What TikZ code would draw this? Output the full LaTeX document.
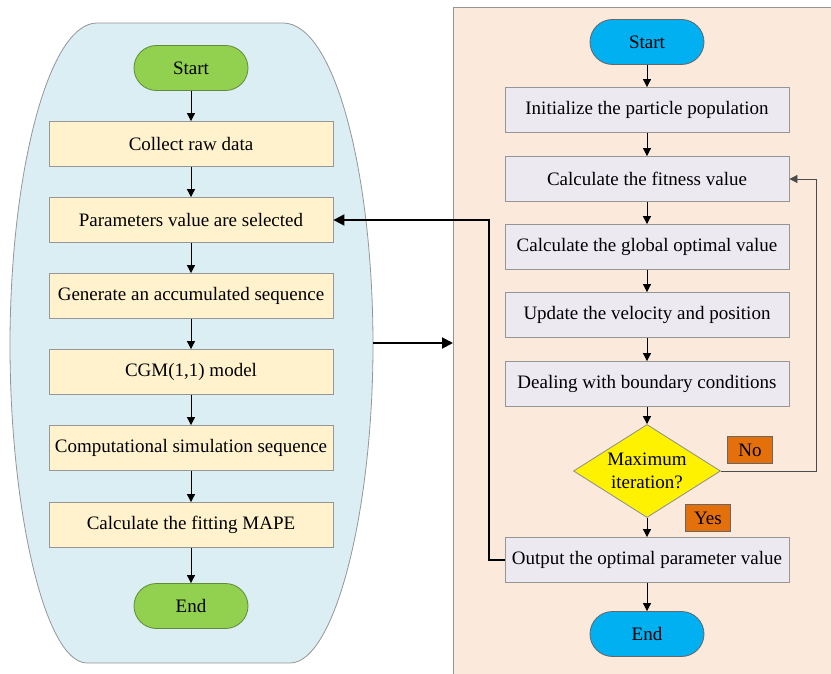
\documentclass[tikz,border=0pt]{standalone}
\usepackage{fontspec}
\setmainfont{Liberation Serif}
\usetikzlibrary{arrows.meta,shapes.geometric}

\definecolor{blobfill}{RGB}{218,238,243}
\definecolor{creamfill}{RGB}{255,242,204}
\definecolor{greenfill}{RGB}{146,208,80}
\definecolor{greenline}{RGB}{96,140,56}
\definecolor{panelfill}{RGB}{251,233,219}
\definecolor{lavfill}{RGB}{236,233,241}
\definecolor{bluefill}{RGB}{0,176,240}
\definecolor{orangefill}{RGB}{228,112,12}
\definecolor{edgegray}{RGB}{150,150,150}

\begin{document}
\begin{tikzpicture}[
	x=0.5pt,y=-0.5pt,
	font=\fontsize{9.5}{11.5}\selectfont,
	box/.style={draw=edgegray,fill=creamfill,minimum width=142pt,minimum height=22.5pt,inner sep=0pt},
	pbox/.style={box,fill=lavfill},
	term/.style={draw=greenline,fill=greenfill,rounded corners=11.25pt,minimum width=57pt,minimum height=22.5pt},
	pterm/.style={term,draw=black!60,fill=bluefill},
	decide/.style={diamond,draw=black!45,fill=yellow,aspect=1.58,minimum width=73.5pt,minimum height=46.5pt,inner sep=0pt,align=center},
	tag/.style={draw=black!60,fill=orangefill,minimum width=22.5pt,minimum height=13.5pt,inner sep=0pt},
	arr/.style={-{Triangle[length=4pt,width=4pt]},black},
	bigarr/.style={-{Triangle[length=5.5pt,width=5.5pt]},black,line width=1pt}
]
\useasboundingbox (0,0) rectangle (831,674);
% background shapes
\path[fill=panelfill] (453,7) rectangle (831,674);
\draw[edgegray] (453,674) -- (453,7) -- (831,7);
\draw[edgegray,fill=blobfill] (97,23) -- (283,23) .. controls (335,23) and (373,175) .. (373,345) .. controls (373,510) and (335,663) .. (290,663) -- (87,663) .. controls (45,663) and (10,510) .. (10,345) .. controls (10,175) and (48,23) .. (97,23) -- cycle;

% left flow
\node[term] (gstart) at (191,68) {Start};
\node[box] (g1) at (191,144) {Collect raw data};
\node[box] (g2) at (191,220) {Parameters value are selected};
\node[box] (g3) at (191,296) {Generate an accumulated sequence};
\node[box] (g4) at (191,372) {CGM(1,1) model};
\node[box] (g5) at (191,448) {Computational simulation sequence};
\node[box] (g6) at (191,525) {Calculate the fitting MAPE};
\node[term] (gend) at (191,606) {End};

\draw[arr] (gstart) -- (g1);
\draw[arr] (g1) -- (g2);
\draw[arr] (g2) -- (g3);
\draw[arr] (g3) -- (g4);
\draw[arr] (g4) -- (g5);
\draw[arr] (g5) -- (g6);
\draw[arr] (g6) -- (gend);

% right flow
\node[pterm] (pstart) at (647,42) {Start};
\node[pbox] (p1) at (647,110) {Initialize the particle population};
\node[pbox] (p2) at (647,179) {Calculate the fitness value};
\node[pbox] (p3) at (647,247) {Calculate the global optimal value};
\node[pbox] (p4) at (647,315) {Update the velocity and position};
\node[pbox] (p5) at (647,384) {Dealing with boundary conditions};
\node[decide] (pdec) at (647,471) {Maximum\\iteration?};
\node[pbox] (pout) at (647,560) {Output the optimal parameter value};
\node[pterm] (pend) at (647,634) {End};
\node[tag] (no) at (750,450) {No};
\node[tag] (yes) at (708,518) {Yes};

\draw[arr] (pstart) -- (p1);
\draw[arr] (p1) -- (p2);
\draw[arr] (p2) -- (p3);
\draw[arr] (p3) -- (p4);
\draw[arr] (p4) -- (p5);
\draw[arr] (p5) -- (pdec);
\draw[arr] (pdec) -- (pout);
\draw[arr] (pout) -- (pend);
\draw[arr,black!70] (pdec.east) -- ++(95,0) |- (p2.east);

% links between the two parts
\coordinate (blobr) at (373,343);
\coordinate (panell) at (453,343);
\draw[bigarr] (blobr) -- (panell);
\draw[bigarr] (pout.west) -- ++(-16,0) |- (g2.east);
\end{tikzpicture}
\end{document}
